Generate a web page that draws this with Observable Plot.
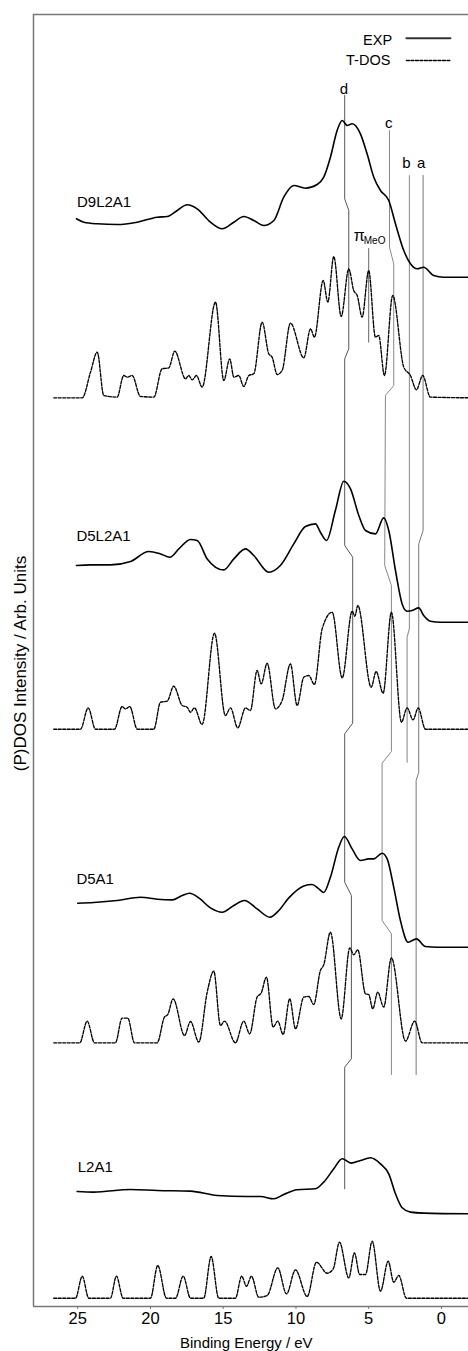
<!DOCTYPE html>
<html>
<head>
<meta charset="utf-8">
<script src="https://cdn.jsdelivr.net/npm/d3@7"></script>
<script src="https://cdn.jsdelivr.net/npm/@observablehq/plot@0.6"></script>
<style>
  html, body { margin: 0; padding: 0; background: #fff; }
  #chart svg [aria-label="x-axis tick"] { stroke: #777; }
  #chart svg [aria-label="x-axis tick label"] { font-size: 16.5px; }
</style>
</head>
<body>
<div id="chart"></div>
<script>
// ---------- data (binding energy in eV, intensity in arbitrary units) ----------
const samples = ["D9L2A1", "D5L2A1", "D5A1", "L2A1"];
const expOffsets  = [1029.3, 684.3, 359.3, 92.7];
const tdosOffsets = [908.7, 577.3, 263.7, 8.3];
const xTicks = [25, 20, 15, 10, 5, 0];

const expD9L2A1 = [[25.09,58.4],[24.58,55],[23.66,53.4],[22.29,52.7],[20.91,55],[19.54,60],[18.85,60.7],[18.16,66.7],[17.48,72.4],[16.79,68.4],[15.88,55],[15.07,48.4],[14.27,55],[13.59,60.7],[12.90,56.7],[12.21,51.7],[11.52,56.7],[10.84,80],[10.15,91.7],[9.35,89],[8.54,92.7],[8.09,100],[7.63,120],[7.17,146.7],[6.82,156.7],[6.48,151.7],[6.14,153.4],[5.57,143.4],[5.11,123.4],[4.65,100],[4.19,86.7],[3.62,76.7],[3.16,53.4],[2.59,26.7],[2.13,13.4],[1.67,8.4],[1.22,10],[0.53,1.7],[-0.16,0],[-1.86,0]];
const tdosD9L2A1 = [[26.65,0],[24.69,0],[24.12,25.7],[23.66,45.7],[23.21,2.3],[22.29,0.7],[21.84,22.3],[21.60,20.7],[21.26,22.3],[20.69,1.3],[19.77,0.7],[19.20,29],[18.74,30],[18.33,46.7],[17.59,19],[17.37,22.3],[17.13,18],[16.84,22.3],[16.45,10.7],[15.53,95.7],[14.96,17.3],[14.55,39],[14.27,20.7],[13.93,22.3],[13.59,11.3],[13.24,22.3],[12.90,24],[12.32,75.7],[11.87,44],[11.64,40.7],[11.29,23.3],[10.95,27.3],[10.38,74.7],[9.46,40],[9.00,69],[8.73,60.7],[8.13,117.3],[7.81,95.7],[7.40,141.3],[6.89,81.3],[6.37,129],[6.03,107.3],[5.79,102.3],[5.45,80.7],[5.00,127.3],[4.54,60.7],[4.31,62.3],[3.92,22.3],[3.35,102.3],[2.59,30.7],[2.13,22.3],[1.72,8],[1.29,22.3],[0.76,0.7],[-1.86,0]];

const expD5L2A1 = [[25.09,56.7],[24.12,57.3],[22.75,57.3],[21.37,60.7],[20.12,70.7],[19.31,68.3],[18.67,65],[18.05,73.3],[17.25,82.7],[16.79,81.7],[16.10,63.3],[14.96,52.3],[14.27,63.3],[13.47,73.3],[12.90,66.7],[11.87,50],[11.07,56.7],[10.15,78.3],[9.35,95.7],[8.66,98.3],[8.32,90],[7.90,81.7],[7.29,111.7],[6.71,141],[6.25,133.3],[5.68,106.7],[5.22,91.7],[4.54,88.3],[3.97,104.3],[3.62,91.7],[3.16,51.7],[2.70,18.3],[2.36,11],[2.01,11.7],[1.56,14.3],[1.22,6.7],[0.76,1],[0.07,0],[-1.86,0]];
const tdosD5L2A1 = [[26.65,0],[24.81,0],[24.28,21.3],[23.78,0],[22.47,0],[21.95,22.7],[21.72,20.3],[21.42,22.7],[20.91,0],[19.77,0],[19.31,27],[18.85,28],[18.40,43],[17.82,23.7],[17.48,22],[17.25,17],[16.98,21.3],[16.45,4.7],[15.60,96],[14.85,13.7],[14.50,21.3],[14.00,1.3],[13.47,21.3],[13.13,18.7],[12.67,58.7],[12.39,45.3],[11.98,66],[11.41,20.3],[10.95,28.7],[10.38,65.3],[9.92,23.7],[9.46,52],[9.12,53.7],[8.73,44.7],[8.20,100.3],[7.51,117],[6.82,51.3],[6.14,118],[5.95,113],[5.75,123.7],[4.83,42],[4.49,57.7],[4.01,36],[3.44,117],[2.75,7],[2.36,21.3],[1.95,9.3],[1.60,21.3],[1.10,0],[-1.86,0]];

const expD5A1 = [[25.00,44],[23.90,44.7],[22.29,46.7],[20.69,50],[19.54,48],[18.51,47.3],[17.82,51.7],[17.30,54],[16.68,49.3],[15.88,39.3],[15.07,35],[14.27,41.7],[13.54,46.7],[12.67,38.3],[11.80,30],[11.18,36.7],[10.49,49.3],[9.46,61.3],[8.89,62.7],[8.43,58.3],[8.09,54.7],[7.63,70],[7.06,100],[6.67,110.7],[6.14,98.3],[5.57,86.7],[5.00,88.3],[4.65,88.3],[4.08,94],[3.73,88.3],[3.28,60],[2.82,26.7],[2.29,5],[1.72,8.3],[1.10,0.7],[0.30,0],[-1.86,0]];
const tdosD5A1 = [[26.65,0],[24.86,0],[24.35,21.7],[23.85,0],[22.41,0],[21.95,24.7],[21.56,24.7],[21.10,0],[19.54,0],[19.04,25.7],[18.81,28.3],[18.44,44],[17.66,7.3],[17.25,21.3],[16.68,0.7],[16.10,50.7],[15.65,71.7],[15.19,17.3],[14.91,21.7],[14.16,0],[13.59,21.7],[13.18,9],[12.67,45.7],[12.39,49.7],[12.03,65.7],[11.57,15.7],[11.25,21.7],[10.88,8.3],[10.43,44],[10.03,14],[9.46,45.7],[9.12,46.3],[8.78,38.3],[8.32,72.3],[8.09,78],[7.63,110.7],[6.89,24],[6.30,95],[6.03,88],[5.75,93],[5.22,49],[5.00,48.3],[4.72,34],[4.38,50.7],[3.97,35.7],[3.44,85],[2.47,1.7],[1.84,21.7],[1.33,0],[-1.86,0]];

const expL2A1 = [[25.04,22.3],[23.90,21.7],[21.37,24.3],[19.54,23.3],[17.25,22.7],[15.42,18.3],[13.35,17.3],[12.44,17.3],[11.53,15],[10.84,19.3],[9.92,24],[8.66,25],[8.09,31.7],[7.40,45],[6.82,55],[6.21,50.7],[5.57,53.3],[4.88,56],[4.19,50],[3.62,40],[3.16,20],[2.70,6],[2.13,1.7],[1.22,0.7],[-1.86,0]];
const tdosL2A1 = [[26.65,0],[25.15,0],[24.69,22],[24.24,0],[22.75,0],[22.34,22],[21.88,0],[20.00,0],[19.50,32.7],[18.90,0],[18.28,0],[17.75,22],[17.25,0],[16.34,0],[15.83,41.7],[15.31,0],[14.16,0],[13.73,22],[13.40,12],[13.06,22],[12.56,1],[11.98,2.7],[11.25,30.3],[10.65,4.3],[10.03,28.3],[9.23,1.7],[8.59,36],[7.86,25],[7.44,29.3],[7.01,56],[6.37,20.3],[5.98,45.3],[5.62,23.7],[5.22,23.7],[4.76,57],[4.19,7],[3.66,37],[3.28,16],[2.93,22.7],[2.41,0],[-1.86,0]];

const expCurves  = [expD9L2A1, expD5L2A1, expD5A1, expL2A1];
const tdosCurves = [tdosD9L2A1, tdosD5L2A1, tdosD5A1, tdosL2A1];

// guide lines (energy, vertical position)
const guideD = [[6.65,1211],[6.65,1107.7],[6.37,1096],[6.37,957.7],[6.65,947.7],[6.65,761],[6.10,749.3],[6.10,583.3],[6.65,572.7],[6.65,424.3],[6.19,411],[6.19,247.7],[6.65,239.3],[6.65,117.7]];
const guideC = [[3.57,1176],[3.57,1059.3],[3.28,1042.7],[3.28,921],[3.85,911],[3.90,741],[3.44,721],[3.44,555],[4.08,543.3],[4.08,386],[3.44,372.7],[3.44,232]];
const guideB = [[2.20,1131],[2.20,678],[2.36,669.3],[2.36,544.3]];
const guideA = [[1.26,1131],[1.26,776],[1.56,762.7],[1.56,534.3],[1.74,526],[1.74,232]];
const guidePi = [[5.00,1058],[5.00,964.3]];

const sampleLabels = [
  {text: "D9L2A1", e: 25.05, y: 1104.1},
  {text: "D5L2A1", e: 25.09, y: 770.8},
  {text: "D5A1",   e: 25.09, y: 427.5},
  {text: "L2A1",   e: 25.00, y: 139.1}
];
const peakLabels = [
  {text: "d", e: 6.71, y: 1217.8},
  {text: "c", e: 3.62, y: 1183.8},
  {text: "b", e: 2.41, y: 1143.5},
  {text: "a", e: 1.40, y: 1143.5}
];

// ---------- build tables ----------
const expRows = [], tdosRows = [];
samples.forEach((s, i) => {
  expCurves[i].forEach(([e, v]) => expRows.push({sample: s, e, y: expOffsets[i] + v}));
  tdosCurves[i].forEach(([e, v]) => tdosRows.push({sample: s, e, y: tdosOffsets[i] + v}));
});
const gx = d => d[0], gy = d => d[1];

const chart = Plot.plot({
  width: 468,
  height: 1351,
  marginLeft: 33,
  marginRight: 0,
  marginTop: 14,
  marginBottom: 45,
  style: {fontFamily: "'Liberation Sans', Arial, Helvetica, sans-serif", fontSize: "15px", background: "#fff", color: "#000"},
  x: {domain: [28.04, -1.86], ticks: xTicks, tickSize: 3, tickPadding: 3, label: null},
  y: {domain: [0, 1292], axis: null},
  marks: [
    // frame
    Plot.ruleX([28.04], {stroke: "#777", strokeWidth: 1.5}),
    Plot.ruleY([0, 1292], {stroke: "#777", strokeWidth: 1.5}),
    // guide lines
    Plot.line(guideD, {x: gx, y: gy, stroke: "#555", strokeWidth: 1}),
    Plot.line(guideC, {x: gx, y: gy, stroke: "#888", strokeWidth: 1}),
    Plot.line(guideB, {x: gx, y: gy, stroke: "#999", strokeWidth: 1.2}),
    Plot.line(guideA, {x: gx, y: gy, stroke: "#777", strokeWidth: 1}),
    Plot.line(guidePi, {x: gx, y: gy, stroke: "#666", strokeWidth: 1}),
    // spectra
    Plot.line(tdosRows, {x: "e", y: "y", z: "sample", curve: "monotone-x", stroke: "#000", strokeWidth: 1.35, strokeDasharray: "3,1.5"}),
    Plot.line(expRows, {x: "e", y: "y", z: "sample", curve: "monotone-x", stroke: "#000", strokeWidth: 1.6}),
    // labels
    Plot.text(sampleLabels, {x: "e", y: "y", text: "text", textAnchor: "start", lineAnchor: "middle", fontSize: 15}),
    Plot.text(peakLabels, {x: "e", y: "y", text: "text", textAnchor: "middle", lineAnchor: "middle", fontSize: 15}),
    Plot.text(["π"], {x: 5.65, y: 1070.8, textAnchor: "middle", lineAnchor: "middle", fontSize: 16}),
    Plot.text(["MeO"], {x: 5.34, y: 1065.9, textAnchor: "start", lineAnchor: "middle", fontSize: 10}),
    // legend
    Plot.text(["EXP"], {x: 3.39, y: 1266.5, textAnchor: "end", lineAnchor: "middle", fontSize: 14.5}),
    Plot.text(["T-DOS"], {x: 3.51, y: 1245.8, textAnchor: "end", lineAnchor: "middle", fontSize: 14.5}),
    Plot.line([[2.41, 1268.3], [-0.62, 1268.3]], {x: gx, y: gy, stroke: "#333", strokeWidth: 2}),
    Plot.line([[2.41, 1246], [-0.62, 1246]], {x: gx, y: gy, stroke: "#000", strokeWidth: 1.3, strokeDasharray: "3,1.5"}),
    // axis titles
    Plot.text(["(P)DOS Intensity / Arb. Units"], {frameAnchor: "left", dx: -13, dy: 3, rotate: -90, textAnchor: "middle", lineAnchor: "middle", fontSize: 17}),
    Plot.text(["Binding Energy / eV"], {frameAnchor: "bottom", dx: -4.7, dy: 36.5, textAnchor: "middle", lineAnchor: "middle", fontSize: 15})
  ]
});
document.getElementById("chart").appendChild(chart);
</script>
</body>
</html>
